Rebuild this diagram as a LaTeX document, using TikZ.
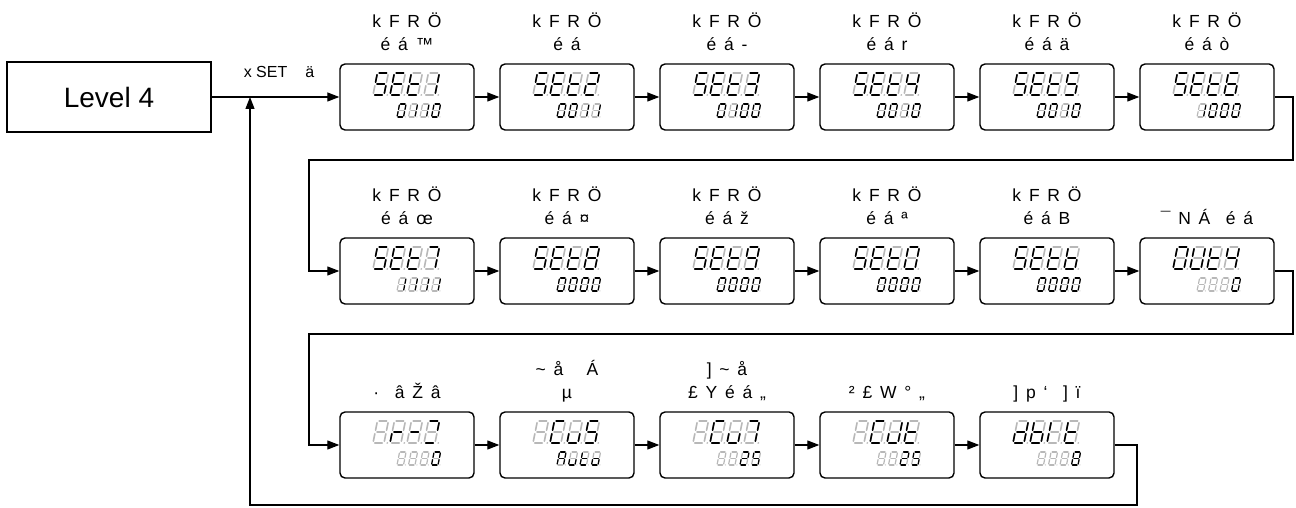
\documentclass[tikz,border=0pt]{standalone}
\usepackage{fontspec}
\setmainfont{Liberation Sans}
\newfontfamily\lblfont[WordSpace=1.6]{Liberation Sans}
\usetikzlibrary{arrows.meta, positioning}

% seven-segment cell, 1 wide and 2 high
\def\sega{(0.16,2)--(0.84,2)}
\def\segb{(1,1.84)--(1,1.16)}
\def\segc{(1,0.84)--(1,0.16)}
\def\segd{(0.16,0)--(0.84,0)}
\def\sege{(0,0.16)--(0,0.84)}
\def\segf{(0,1.16)--(0,1.84)}
\def\segg{(0.16,1)--(0.84,1)}
\newcommand\segsty{segon}
\newcommand\drawseg[1]{\edef\segtmp{\noexpand\draw[\segsty] \csname seg#1\endcsname;}\segtmp}
\def\segloop#1{\ifx#1\relax\else\drawseg{#1}\expandafter\segloop\fi}

% one digit: shift, size, line width, lit segments
\newcommand\lcddigit[4]{%
  \begin{scope}[shift={#1}, scale=#2, xslant=0.2, line width=#3]
    \renewcommand\segsty{segoff}\segloop abcdefg\relax
    \renewcommand\segsty{segon}\segloop #4\relax
    \fill[segdot] (1.3,0) circle[radius=0.09];
  \end{scope}}
% big and small line of a panel
\newcommand\lcdtop[5]{%
  \begin{scope}[shift={(#1.center)}]
    \lcddigit{(-34,2)}{11}{1.6pt}{#2}
    \lcddigit{(-17,2)}{11}{1.6pt}{#3}
    \lcddigit{(0,2)}{11}{1.6pt}{#4}
    \lcddigit{(17,2)}{11}{1.6pt}{#5}
  \end{scope}}
\newcommand\lcdbot[5]{%
  \begin{scope}[shift={(#1.center)}]
    \lcddigit{(-10,-20)}{6.5}{1.2pt}{#2}
    \lcddigit{(1.5,-20)}{6.5}{1.2pt}{#3}
    \lcddigit{(13,-20)}{6.5}{1.2pt}{#4}
    \lcddigit{(24.5,-20)}{6.5}{1.2pt}{#5}
  \end{scope}}

\begin{document}
\begin{tikzpicture}[
    x=1pt, y=1pt,
    >={Triangle[length=12pt, width=9pt]},
    lvl/.style   ={draw, line width=1.2pt, minimum width=204pt, minimum height=70pt,
                   font=\fontsize{28}{30}\selectfont},
    disp/.style  ={draw, line width=1.4pt, rounded corners=5pt,
                   minimum width=134pt, minimum height=66pt},
    tag/.style   ={align=center, inner sep=0pt, font=\lblfont\fontsize{17.5}{23}\selectfont},
    key/.style   ={font=\fontsize{16}{18}\selectfont},
    flow/.style  ={->, line width=1.2pt},
    segon/.style ={draw=black, line cap=round},
    segoff/.style={draw=black!28, line cap=round},
    segdot/.style={fill=black!28}
  ]
  \useasboundingbox (0,0) rectangle (1296,508);

  \node[lvl] (lvl) at (109,411) {Level 4};

  %% --- panels, row 1 ---
  \node[disp] (s1) at (407,411) {};
  \node[disp] (s2) at (567,411) {};
  \node[disp] (s3) at (727,411) {};
  \node[disp] (s4) at (887,411) {};
  \node[disp] (s5) at (1047,411) {};
  \node[disp] (s6) at (1207,411) {};
  %% --- row 2 ---
  \node[disp] (s7) at (407,237) {};
  \node[disp] (s8) at (567,237) {};
  \node[disp] (s9) at (727,237) {};
  \node[disp] (s10) at (887,237) {};
  \node[disp] (s11) at (1047,237) {};
  \node[disp] (s12) at (1207,237) {};
  %% --- row 3 ---
  \node[disp] (s13) at (407,63) {};
  \node[disp] (s14) at (567,63) {};
  \node[disp] (s15) at (727,63) {};
  \node[disp] (s16) at (887,63) {};
  \node[disp] (s17) at (1047,63) {};

  %% --- captions ---
  \node[tag, above=6pt of s1] (t1) {k F R Ö\\é á ™\strut};
  \node[tag, above=6pt of s2] (t2) {k F R Ö\\é á\strut};
  \node[tag, above=6pt of s3] (t3) {k F R Ö\\é á -\strut};
  \node[tag, above=6pt of s4] (t4) {k F R Ö\\é á r\strut};
  \node[tag, above=6pt of s5] (t5) {k F R Ö\\é á ä\strut};
  \node[tag, above=6pt of s6] (t6) {k F R Ö\\é á ò\strut};
  \node[tag, above=6pt of s7] (t7) {k F R Ö\\é á œ\strut};
  \node[tag, above=6pt of s8] (t8) {k F R Ö\\é á ¤\strut};
  \node[tag, above=6pt of s9] (t9) {k F R Ö\\é á ž\strut};
  \node[tag, above=6pt of s10] (t10) {k F R Ö\\é á ª\strut};
  \node[tag, above=6pt of s11] (t11) {k F R Ö\\é á B\strut};
  \node[tag, above=6pt of s12] (t12) {¯ N Á\ \ é á\strut};
  \node[tag, above=6pt of s13] (t13) {·\ \ â Ž â\strut};
  \node[tag, above=6pt of s14] (t14) {\textasciitilde{} å\ \ \ Á\\µ\strut};
  \node[tag, above=6pt of s15] (t15) {] \textasciitilde{} å\\£ Y é á „\strut};
  \node[tag, above=6pt of s16] (t16) {² £ W ° „\strut};
  \node[tag, above=6pt of s17] (t17) {] p ‘\ \ ] ï\strut};

  %% --- display contents (lit segments per digit) ---
  \lcdtop{s1}{afgcd}{afged}{fged}{bc}    \lcdbot{s1}{abcdef}{bc}{bc}{abcdef}
  \lcdtop{s2}{afgcd}{afged}{fged}{abged} \lcdbot{s2}{abcdef}{abcdef}{bc}{bc}
  \lcdtop{s3}{afgcd}{afged}{fged}{abgcd} \lcdbot{s3}{abcdef}{bc}{abcdef}{abcdef}
  \lcdtop{s4}{afgcd}{afged}{fged}{fgbc}  \lcdbot{s4}{abcdef}{abcdef}{bc}{abcdef}
  \lcdtop{s5}{afgcd}{afged}{fged}{afgcd} \lcdbot{s5}{abcdef}{abcdef}{bc}{abcdef}
  \lcdtop{s6}{afgcd}{afged}{fged}{afgedc}\lcdbot{s6}{bc}{abcdef}{abcdef}{abcdef}
  \lcdtop{s7}{afgcd}{afged}{fged}{abc}   \lcdbot{s7}{bc}{bc}{bc}{bc}
  \lcdtop{s8}{afgcd}{afged}{fged}{abcdefg}\lcdbot{s8}{abcdef}{abcdef}{abcdef}{abcdef}
  \lcdtop{s9}{afgcd}{afged}{fged}{abcdfg}\lcdbot{s9}{abcdef}{abcdef}{abcdef}{abcdef}
  \lcdtop{s10}{afgcd}{afged}{fged}{abcdef}\lcdbot{s10}{abcdef}{abcdef}{abcdef}{abcdef}
  \lcdtop{s11}{afgcd}{afged}{fged}{fedcg}\lcdbot{s11}{abcdef}{abcdef}{abcdef}{abcdef}
  \lcdtop{s12}{abcdef}{bcdef}{fged}{fgbc}\lcdbot{s12}{}{}{}{abcdef}
  \lcdtop{s13}{}{eg}{g}{abd}             \lcdbot{s13}{}{}{}{abcdef}
  \lcdtop{s14}{}{afed}{cde}{afgcd}       \lcdbot{s14}{abcefg}{cde}{fged}{cdeg}
  \lcdtop{s15}{}{afed}{cde}{abc}         \lcdbot{s15}{}{}{abged}{afgcd}
  \lcdtop{s16}{}{afed}{bcde}{fged}       \lcdbot{s16}{}{}{abged}{afgcd}
  \lcdtop{s17}{bcdeg}{cdefg}{ef}{fged}   \lcdbot{s17}{}{}{}{abcdefg}

  %% --- turning points of the long runs ---
  \coordinate (join) at (250,411);
  \coordinate (r1) at (1293,348);
  \coordinate (r1b) at (309,348);
  \coordinate (r2) at (1293,174);
  \coordinate (r2b) at (309,174);
  \coordinate (back) at (1137,3);

  %% --- edges ---
  \draw[flow] (lvl.east) -- (s1.west);
  \node[key] at (279,436) (setkey) {x SET\hspace{18pt}ä};
  \draw[flow] (s1) -- (s2);
  \draw[flow] (s2) -- (s3);
  \draw[flow] (s3) -- (s4);
  \draw[flow] (s4) -- (s5);
  \draw[flow] (s5) -- (s6);
  \draw[flow] (s6.east) -| (r1) -- (r1b) |- (s7.west);
  \draw[flow] (s7) -- (s8);
  \draw[flow] (s8) -- (s9);
  \draw[flow] (s9) -- (s10);
  \draw[flow] (s10) -- (s11);
  \draw[flow] (s11) -- (s12);
  \draw[flow] (s12.east) -| (r2) -- (r2b) |- (s13.west);
  \draw[flow] (s13) -- (s14);
  \draw[flow] (s14) -- (s15);
  \draw[flow] (s15) -- (s16);
  \draw[flow] (s16) -- (s17);
  \draw[flow] (s17.east) -| (back) -| (join);

\end{tikzpicture}
\end{document}
